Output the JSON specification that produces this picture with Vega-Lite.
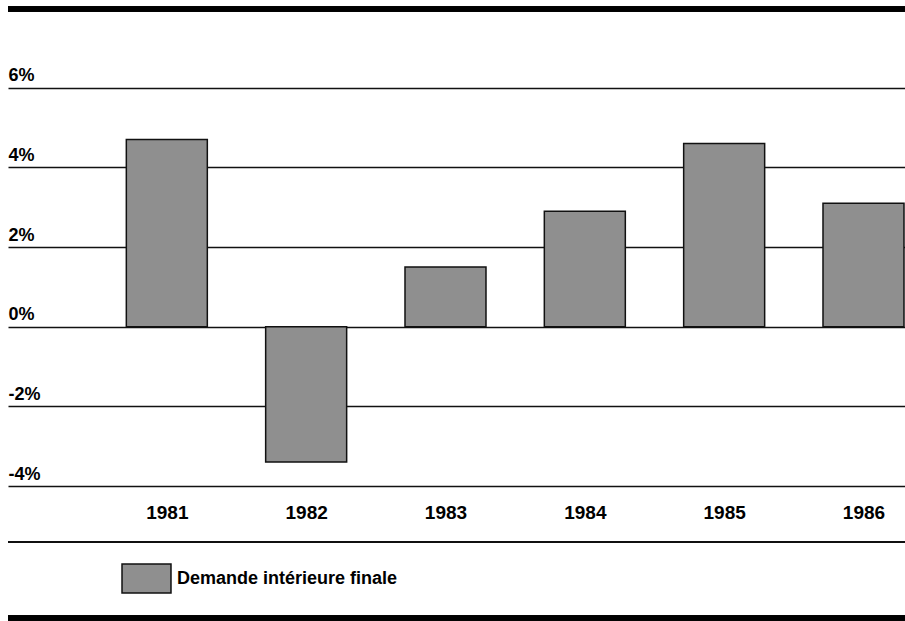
{
  "$schema": "https://vega.github.io/schema/vega-lite/v6.json",
  "autosize": {"type": "none"},
  "padding": {"left": 8, "top": 0, "right": 0, "bottom": 0},
  "width": 897,
  "height": 621,
  "background": "white",
  "config": {"view": {"stroke": null}},
  "data": {
    "values": [
      {"year": 1981, "value": 4.7, "series": "Demande intérieure finale"},
      {"year": 1982, "value": -3.4, "series": "Demande intérieure finale"},
      {"year": 1983, "value": 1.5, "series": "Demande intérieure finale"},
      {"year": 1984, "value": 2.9, "series": "Demande intérieure finale"},
      {"year": 1985, "value": 4.6, "series": "Demande intérieure finale"},
      {"year": 1986, "value": 3.1, "series": "Demande intérieure finale"}
    ]
  },
  "encoding": {
    "y": {
      "type": "quantitative",
      "scale": {"domain": [-7.389, 8.202], "nice": false, "zero": false},
      "axis": {
        "title": null,
        "values": [-4, -2, 0, 2, 4, 6],
        "grid": true,
        "gridColor": "#111111",
        "gridWidth": 1.5,
        "gridOpacity": 1,
        "domain": false,
        "ticks": false,
        "tickSize": 0,
        "labelPadding": 0,
        "labelAlign": "left",
        "labelBaseline": "alphabetic",
        "labelOffset": -7,
        "labelFont": "Liberation Sans",
        "labelFontWeight": "bold",
        "labelFontSize": 18,
        "labelColor": "#000000",
        "labelExpr": "datum.value + '%'"
      }
    }
  },
  "layer": [
    {
      "mark": {"type": "bar", "width": 81, "stroke": "#111111", "strokeWidth": 1.5},
      "encoding": {
        "x": {
          "field": "year",
          "type": "quantitative",
          "scale": {"domain": [1979.896, 1986.262], "nice": false, "zero": false},
          "axis": {
            "title": null,
            "orient": "bottom",
            "offset": -109,
            "values": [1981, 1982, 1983, 1984, 1985, 1986],
            "format": "d",
            "grid": false,
            "domain": false,
            "ticks": false,
            "tickSize": 0,
            "labelPadding": 0,
            "labelBaseline": "middle",
            "labelFont": "Liberation Sans",
            "labelFontWeight": "bold",
            "labelFontSize": 19,
            "labelColor": "#000000"
          }
        },
        "y": {"field": "value"},
        "fill": {
          "field": "series",
          "type": "nominal",
          "scale": {"range": ["#8f8f8f"]},
          "legend": {
            "title": null,
            "orient": "none",
            "legendX": 113,
            "legendY": 553,
            "padding": 0,
            "symbolType": "M-1,-0.59H1V0.59H-1Z",
            "symbolSize": 2400,
            "symbolStrokeColor": "#111111",
            "symbolStrokeWidth": 1.5,
            "symbolOffset": 0,
            "labelOffset": 5,
            "labelFont": "Liberation Sans",
            "labelFontWeight": "bold",
            "labelFontSize": 18,
            "labelColor": "#000000",
            "labelLimit": 400
          }
        }
      }
    },
    {
      "mark": {"type": "rule", "color": "#000000", "strokeWidth": 5},
      "encoding": {"y": {"datum": 7.976}}
    },
    {
      "mark": {"type": "rule", "color": "#111111", "strokeWidth": 1.5},
      "encoding": {"y": {"datum": -5.408}}
    },
    {
      "mark": {"type": "rule", "color": "#000000", "strokeWidth": 5},
      "encoding": {"y": {"datum": -7.314}}
    }
  ]
}
